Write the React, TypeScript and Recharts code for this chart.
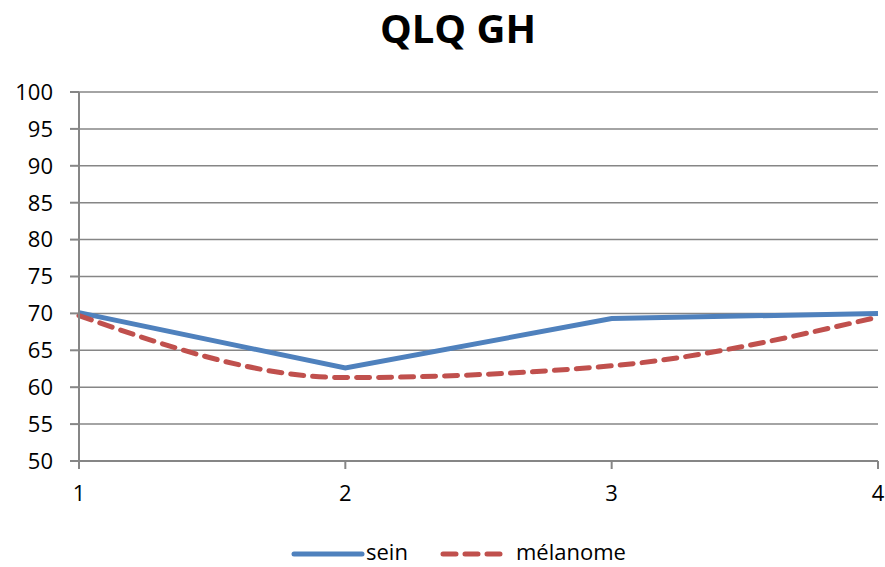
import React from "react";
import { LineChart, Line, XAxis, YAxis, CartesianGrid, Legend } from "recharts";

const categories = [1, 2, 3, 4];
const seinValues = [70.1, 62.6, 69.3, 70.0];
const melanomeValues = [69.7, 61.3, 62.9, 69.5];
const yTicks = [50, 55, 60, 65, 70, 75, 80, 85, 90, 95, 100];
const title = "QLQ GH";

const data = categories.map((c, i) => ({ x: c, sein: seinValues[i], melanome: melanomeValues[i] }));

const FONT = "'Open Sans', sans-serif";
const BLUE = "#4F81BD";
const RED = "#C0504D";
const GRAY = "#868686";

const LegendContent = () => (
  <div style={{ height: 46, position: "relative", fontFamily: FONT, fontSize: 22, color: "#000" }}>
    <svg width={885} height={46} style={{ position: "absolute", left: 0, top: 0 }}>
      <line x1={294} y1={33} x2={362} y2={33} stroke={BLUE} strokeWidth={5} strokeLinecap="round" />
      <line x1={443} y1={33} x2={505} y2={33} stroke={RED} strokeWidth={5} strokeDasharray="13 9" strokeLinecap="round" />
      <text x={366} y={39} fontFamily={FONT} fontSize={22} fill="#000">sein</text>
      <text x={516} y={39} fontFamily={FONT} fontSize={22} fill="#000">mélanome</text>
    </svg>
  </div>
);

export default function App() {
  return (
    <div style={{ position: "absolute", left: 0, top: 0, width: 885, height: 567, background: "#fff" }}>
      <div
        style={{
          position: "absolute",
          left: 0,
          top: 8,
          width: 916,
          textAlign: "center",
          fontFamily: FONT,
          fontWeight: 700,
          fontSize: 40,
          lineHeight: "40px",
          color: "#000",
        }}
      >
        {title}
      </div>
      <LineChart width={885} height={567} data={data} margin={{ top: 92, right: 7, bottom: 0, left: 0 }}>
        <CartesianGrid vertical={false} stroke={GRAY} strokeWidth={1.5} />
        <XAxis
          dataKey="x"
          type="number"
          domain={[1, 4]}
          ticks={categories}
          height={60}
          axisLine={{ stroke: GRAY, strokeWidth: 2 }}
          tickLine={{ stroke: GRAY, strokeWidth: 2 }}
          tickSize={8}
          tickMargin={16}
          tick={{ fill: "#000", fontFamily: FONT, fontSize: 22 }}
          interval={0}
        />
        <YAxis
          type="number"
          domain={[50, 100]}
          ticks={yTicks}
          width={79}
          axisLine={{ stroke: GRAY, strokeWidth: 2 }}
          tickLine={{ stroke: GRAY, strokeWidth: 2 }}
          tickSize={9}
          tickMargin={17}
          tick={{ fill: "#000", fontFamily: FONT, fontSize: 22 }}
          interval={0}
        />
        <Legend verticalAlign="bottom" content={<LegendContent />} />
        <Line
          dataKey="sein"
          name="sein"
          type="linear"
          stroke={BLUE}
          strokeWidth={5}
          dot={false}
          isAnimationActive={false}
        />
        <Line
          dataKey="melanome"
          name="mélanome"
          type="monotone"
          stroke={RED}
          strokeWidth={5}
          strokeDasharray="13 9"
          strokeLinecap="round"
          dot={false}
          isAnimationActive={false}
        />
      </LineChart>
    </div>
  );
}
